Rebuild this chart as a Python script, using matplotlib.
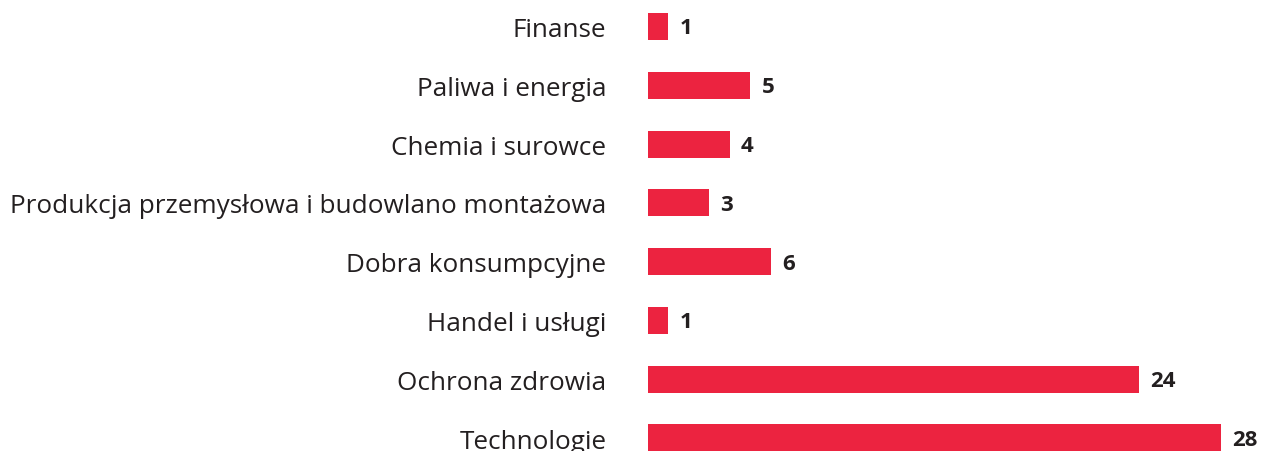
import matplotlib
matplotlib.use("Agg")
import matplotlib.pyplot as plt
import numpy as np

plt.rcParams['font.family'] = ['Open Sans', 'DejaVu Sans']

categories = [
    "Finanse",
    "Paliwa i energia",
    "Chemia i surowce",
    "Produkcja przemysłowa i budowlano montażowa",
    "Dobra konsumpcyjne",
    "Handel i usługi",
    "Ochrona zdrowia",
    "Technologie",
]
values = [1, 5, 4, 3, 6, 1, 24, 28]

bar_color = "#EC2340"
text_color = "#231F20"

fig = plt.figure(figsize=(12.64, 4.52), dpi=100)
ax = fig.add_axes([648 / 1264, 0, 616 / 1264, 1])

y = np.arange(len(categories))
ax.barh(y, values, height=0.46, color=bar_color, left=0)

for yi, v in zip(y, values):
    ax.annotate(str(v), (v, yi), xytext=(8, -1), textcoords="offset points",
                ha="left", va="center", fontsize=16, fontweight="bold",
                color=text_color)

ax.set_xlim(0, 30.1)
ax.set_ylim(7.221, -0.468)
ax.set_yticks(y)
ax.set_yticklabels(categories, fontsize=18.8, color=text_color)
ax.tick_params(axis="y", length=0, pad=30)
ax.set_xticks([])
for s in ax.spines.values():
    s.set_visible(False)

fig.savefig("out.png", dpi=100)
